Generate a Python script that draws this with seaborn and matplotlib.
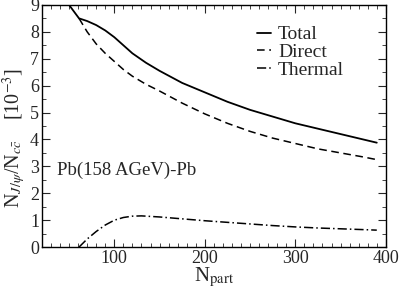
import numpy as np
import pandas as pd
import matplotlib
matplotlib.use("Agg")
import matplotlib.pyplot as plt
import seaborn as sns
from matplotlib.ticker import MultipleLocator

# Pb(158 AGeV)-Pb, J/psi to c-cbar ratio in units of 1e-3
n_total = [45, 50, 61, 70, 80, 90, 100, 110, 120, 135, 150, 175, 200, 225, 250, 275, 300, 325, 350, 375, 390]
total = [9.4, 9.0, 8.5, 8.4, 8.25, 8.05, 7.8, 7.5, 7.2, 6.85, 6.55, 6.1, 5.75, 5.4, 5.1, 4.85, 4.6, 4.4, 4.2, 4.0, 3.88]

n_direct = [61, 70, 80, 90, 100, 110, 120, 135, 150, 175, 200, 225, 250, 275, 300, 325, 350, 375, 390]
direct = [8.5, 8.0, 7.55, 7.2, 6.9, 6.6, 6.35, 6.05, 5.8, 5.35, 4.95, 4.6, 4.3, 4.05, 3.85, 3.65, 3.5, 3.35, 3.25]

n_thermal = [61, 70, 80, 90, 100, 110, 120, 130, 150, 175, 200, 225, 250, 275, 300, 325, 350, 375, 390]
thermal = [0.0, 0.3, 0.58, 0.82, 1.0, 1.1, 1.15, 1.16, 1.12, 1.05, 0.98, 0.92, 0.86, 0.8, 0.75, 0.71, 0.68, 0.65, 0.63]

sns.set_style("ticks")
plt.rcParams['font.family'] = ['Liberation Serif', 'DejaVu Serif']
plt.rcParams['mathtext.fontset'] = 'stix'

fig = plt.figure(figsize=(3.99, 2.88), dpi=100)
ax = fig.add_axes([0.105, 0.142, 0.862, 0.841])

sns.lineplot(x=n_total, y=total, ax=ax, color='black', lw=1.3, label='Total')
sns.lineplot(x=n_direct, y=direct, ax=ax, color='black', lw=1.1, linestyle=(0, (5, 3)), label='Direct')
sns.lineplot(x=n_thermal, y=thermal, ax=ax, color='black', lw=1.1, linestyle=(0, (6, 2, 1, 2)), label='Thermal')

ax.set_xlim(20, 400)
ax.set_ylim(0, 9)
ax.xaxis.set_major_locator(MultipleLocator(100))
ax.xaxis.set_minor_locator(MultipleLocator(10))
ax.yaxis.set_major_locator(MultipleLocator(1))
ax.yaxis.set_minor_locator(MultipleLocator(0.5))
ax.tick_params(which='both', direction='in', top=True, right=True, labelsize=13, pad=2)
ax.tick_params(which='major', length=6)
ax.tick_params(which='minor', length=3)
for s in ax.spines.values():
    s.set_linewidth(1.0)
    s.set_color('black')

ax.set_xlabel(r'N$_{\mathrm{part}}$', fontsize=15, labelpad=-1)
ax.set_ylabel(r'N$_{J/\psi}$/N$_{c\bar{c}}$    [10$^{-3}$]', fontsize=14.5)
ax.yaxis.set_label_coords(-0.04, 0.45)

ax.text(37, 2.85, 'Pb(158 AGeV)-Pb', fontsize=13.5, va='center')

leg = ax.legend(loc='upper left', bbox_to_anchor=(0.585, 0.97), frameon=False, fontsize=14,
                handlelength=0.75, handletextpad=0.35, labelspacing=0.0, borderpad=0.2)

fig.savefig('out.png', dpi=100)
